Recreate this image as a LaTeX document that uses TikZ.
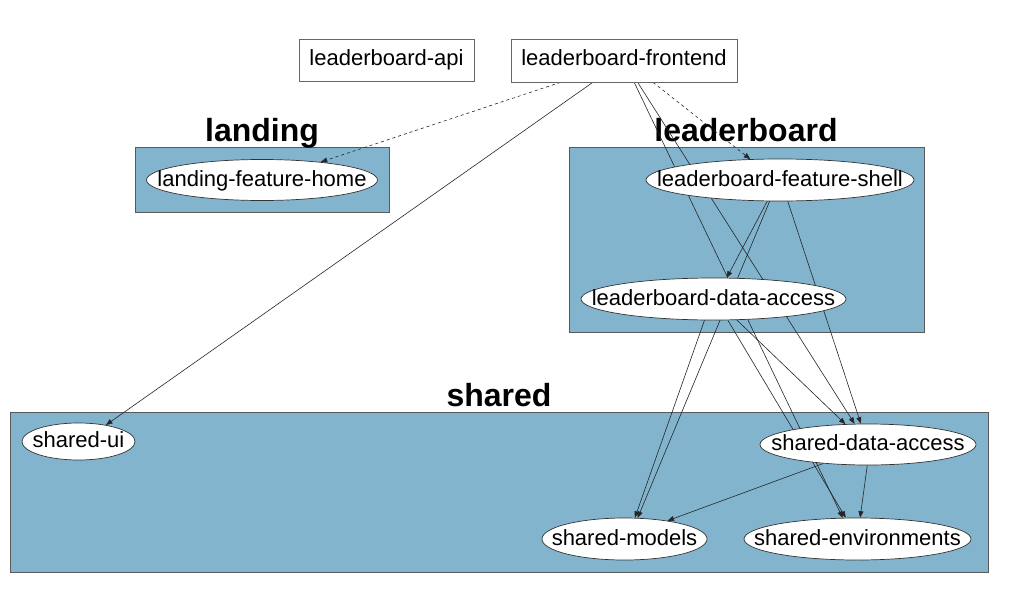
\documentclass[tikz,border=0pt]{standalone}
\usepackage{fontspec}
\setmainfont{Liberation Sans}
\usetikzlibrary{shapes.geometric,arrows.meta}
\pgfdeclarelayer{bg}
\pgfdeclarelayer{edges}
\pgfsetlayers{bg,edges,main}
\definecolor{clusterblue}{RGB}{130,180,206}
\newcommand{\nodetxt}[1]{\makebox[0pt]{#1}}
\begin{document}
\begin{tikzpicture}[x=1pt,y=-1pt,
  lbl/.style={font=\fontsize{22}{26}\selectfont, text height=15pt, text depth=4pt, inner sep=0pt},
  box/.style={lbl, draw=black!60, line width=0.8pt, fill=white, rectangle},
  proj/.style={lbl, text height=16pt, text depth=3.5pt, draw=black!80, line width=0.7pt, fill=white, ellipse},
  cluster/.style={draw=black!65, line width=0.8pt, fill=clusterblue},
  ctitle/.style={font=\bfseries\fontsize{32}{36}\selectfont, anchor=base, inner sep=0pt},
  dep/.style={draw=black!85, line width=0.6pt, -{Triangle[length=6.5pt,width=5pt]}},
  lazydep/.style={dep, dash pattern=on 3pt off 3pt}
]
\useasboundingbox (0,0) rectangle (1014,610);

% clusters
\begin{pgfonlayer}{bg}
  \fill[white] (0,0) rectangle (1014,610);
  \draw[cluster] (135,147) rectangle (389,212);
  \node[ctitle] (tlanding) at (262,141) {landing};
  \draw[cluster] (569,147) rectangle (924,332);
  \node[ctitle] (tleader) at (746,141) {leaderboard};
  \draw[cluster] (10,412) rectangle (988,572);
  \node[ctitle] (tshared) at (499,406) {shared};
\end{pgfonlayer}

% apps
\node[box, minimum width=175pt, minimum height=42pt] (api) at (386.5,60.5) {leaderboard-api};
\node[box, minimum width=226pt, minimum height=43pt] (fe) at (624,60.5) {leaderboard-frontend};

% libs
\node[proj, minimum width=231pt, minimum height=41pt] (lfh) at (262,180) {\nodetxt{landing-feature-home}};
\node[proj, minimum width=268pt, minimum height=42pt] (shell) at (780,180) {\nodetxt{leaderboard-feature-shell}};
\node[proj, minimum width=265pt, minimum height=42pt] (lda) at (713.5,299) {\nodetxt{leaderboard-data-access}};
\node[proj, minimum width=113pt, minimum height=37pt] (sui) at (78.5,441.5) {\nodetxt{shared-ui}};
\node[proj, minimum width=216pt, minimum height=41pt] (sda) at (868,444.5) {\nodetxt{shared-data-access}};
\node[proj, minimum width=165pt, minimum height=42pt] (sm) at (624.5,539) {\nodetxt{shared-models}};
\node[proj, minimum width=227pt, minimum height=42pt] (se) at (857.5,539) {\nodetxt{shared-environments}};

% dependencies
\begin{pgfonlayer}{edges}
  \draw[lazydep] (fe.-161.4) -- (lfh.17);
  \draw[lazydep] (fe.-37.5) -- (shell.145.5);
  \draw[dep] (fe.-145.3) -- (sui.31.5);
  \draw[dep] (fe.-65.1) -- (se.125.2);
  \draw[dep] (fe.-58.8) -- (sda.123.7);
  \draw[dep] (shell.-121) -- (lda.58.5);
  \draw[dep] (shell.-116.6) -- (sm.58.5);
  \draw[dep] (shell.-70.7) -- (sda.109.6);
  \draw[dep] (lda.-113) -- (sm.64.5);
  \draw[dep] (lda.-42.9) -- (sda.138);
  \draw[dep] (lda.-56) -- (se.119.6);
  \draw[dep] (sda.-157.7) -- (sm.23.7);
  \draw[dep] (sda.-92.8) -- (se.83.5);
\end{pgfonlayer}
\end{tikzpicture}
\end{document}
